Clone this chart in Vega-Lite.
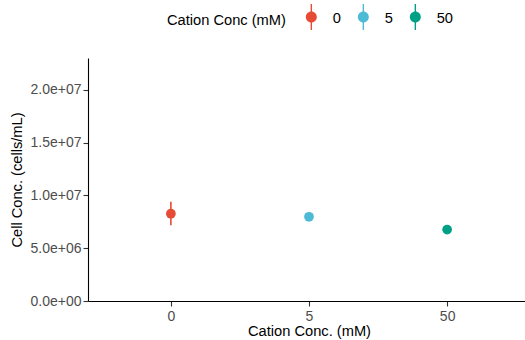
{
  "$schema": "https://vega.github.io/schema/vega-lite/v6.json",
  "width": 442,
  "height": 243,
  "autosize": {"type": "none"},
  "padding": {"left": 88, "top": 58, "right": 0, "bottom": 39},
  "background": "white",
  "config": {
    "view": {"stroke": null},
    "font": "Liberation Sans",
    "axis": {
      "domainColor": "black",
      "domainWidth": 1.1,
      "tickColor": "#333333",
      "tickWidth": 1.1,
      "tickSize": 5,
      "grid": false,
      "labelFont": "Liberation Sans",
      "labelFontSize": 14,
      "labelColor": "#4D4D4D",
      "titleFont": "Liberation Sans",
      "titleFontSize": 14.67,
      "titleFontWeight": "normal",
      "titleColor": "black"
    }
  },
  "data": {
    "values": [
      {"conc": "0", "mean": 8260000, "lo": 7170000, "hi": 9400000},
      {"conc": "5", "mean": 7970000, "lo": 7970000, "hi": 7970000},
      {"conc": "50", "mean": 6760000, "lo": 6760000, "hi": 6760000}
    ]
  },
  "encoding": {
    "x": {
      "field": "conc",
      "type": "ordinal",
      "sort": ["0", "5", "50"],
      "scale": {"type": "point", "padding": 0.6},
      "axis": {
        "title": "Cation Conc. (mM)",
        "labelAngle": 0,
        "labelPadding": 3,
        "titlePadding": 0
      }
    }
  },
  "layer": [
    {
      "mark": {"type": "rule", "strokeWidth": 1.6},
      "encoding": {
        "y": {"field": "lo", "type": "quantitative"},
        "y2": {"field": "hi"},
        "color": {
          "field": "conc",
          "type": "nominal",
          "sort": ["0", "5", "50"],
          "scale": {"domain": ["0", "5", "50"], "range": ["#E64B35", "#4DBBD5", "#00A087"]},
          "legend": null
        }
      }
    },
    {
      "mark": {"type": "point", "filled": true, "size": 95, "opacity": 1},
      "encoding": {
        "y": {
          "field": "mean",
          "type": "quantitative",
          "scale": {"domain": [0, 23000000], "nice": false, "zero": true},
          "axis": {
            "title": "Cell Conc. (cells/mL)",
            "values": [0, 5000000, 10000000, 15000000, 20000000],
            "labelExpr": "replace(format(datum.value, '.1e'), regexp('e[+]([0-9])$'), 'e+0$1')",
            "labelPadding": 2,
            "titlePadding": 6
          }
        },
        "color": {
          "field": "conc",
          "type": "nominal",
          "sort": ["0", "5", "50"],
          "scale": {"domain": ["0", "5", "50"], "range": ["#E64B35", "#4DBBD5", "#00A087"]},
          "legend": {
            "title": "Cation Conc (mM)",
            "orient": "none",
            "direction": "horizontal",
            "legendX": 79,
            "legendY": -46,
            "titleOrient": "left",
            "titleFont": "Liberation Sans",
            "titleFontSize": 14.67,
            "titleFontWeight": "normal",
            "titleColor": "black",
            "titlePadding": 18,
            "labelFont": "Liberation Sans",
            "labelFontSize": 14.67,
            "labelColor": "black",
            "labelOffset": 14,
            "columnPadding": 15,
            "symbolSize": 100,
            "symbolStrokeWidth": 0,
            "symbolOpacity": 1,
            "symbolType": "M-1.1,-0.5A1.1,1.1,0,1,1,1.1,-0.5A1.1,1.1,0,1,1,-1.1,-0.5Z M-0.14,-3.1H0.14V2.1H-0.14Z"
          }
        }
      }
    }
  ],
  "resolve": {"legend": {"color": "independent"}}
}
